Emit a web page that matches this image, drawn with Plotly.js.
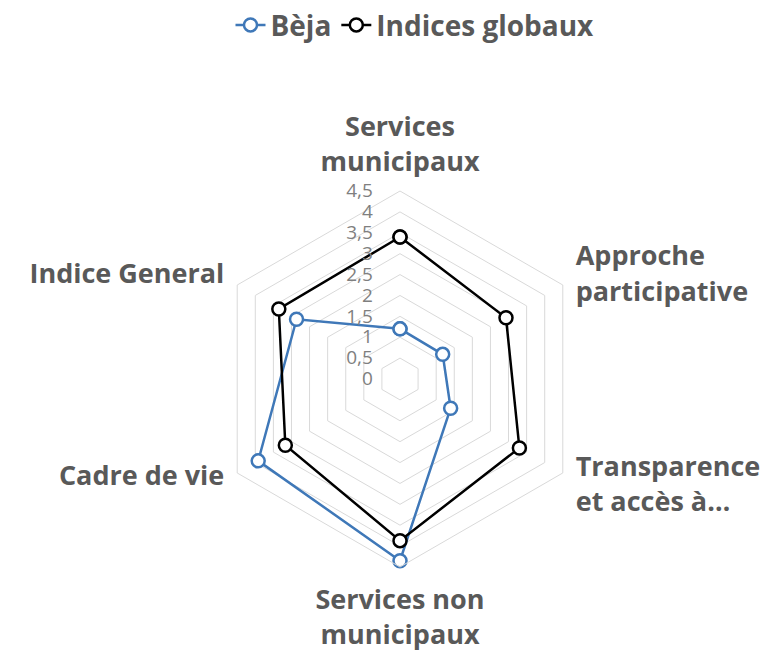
<!DOCTYPE html>
<html>
<head>
<meta charset="utf-8">
<script src="https://cdn.plot.ly/plotly-3.0.1.min.js"></script>
<style>html,body{margin:0;padding:0;background:#fff;}#chart{width:772px;height:657px;}</style>
</head>
<body>
<div id="chart"></div>
<script>
var categories = ["Services<br>municipaux", "Approche<br>participative", "Transparence<br>et accès à…", "Services non<br>municipaux", "Cadre de vie", "Indice General"];
var bejaValues = [1.2, 1.18, 1.4, 4.35, 3.92, 2.86];
var globalValues = [3.4, 2.93, 3.3, 3.87, 3.17, 3.35];
var radialTicks = [0, 0.5, 1, 1.5, 2, 2.5, 3, 3.5, 4, 4.5];

function closed(a){ return a.concat([a[0]]); }

// blank lines used only to nudge the label blocks vertically (layout styling)
var NB = '\u00a0';
var labelPadBefore = [0, 1, 0, 0, 0, 0];
var labelPadAfter  = [0, 0, 2, 0, 2, 0];
var tickText = categories.map(function(c, i){
  var s = c;
  for (var k = 0; k < labelPadBefore[i]; k++) s = NB + '<br>' + s;
  for (var k2 = 0; k2 < labelPadAfter[i]; k2++) s = s + '<br>' + NB;
  return s;
});

var traces = [
  {
    type: 'scatterpolar', name: 'Bèja',
    r: closed(bejaValues), theta: closed(categories),
    mode: 'lines+markers',
    line: {color: '#3f78b8', width: 2.5},
    marker: {symbol: 'circle', size: 13, color: '#ffffff', line: {color: '#3f78b8', width: 2.5}}
  },
  {
    type: 'scatterpolar', name: 'Indices globaux',
    r: closed(globalValues), theta: closed(categories),
    mode: 'lines+markers',
    line: {color: '#000000', width: 2.5},
    marker: {symbol: 'circle', size: 13, color: '#ffffff', line: {color: '#000000', width: 2.5}}
  }
];

var layout = {
  width: 772, height: 657,
  margin: {l: 0, r: 0, t: 0, b: 0},
  paper_bgcolor: '#ffffff',
  separators: ', ',
  font: {family: 'Open Sans, sans-serif', color: '#595959'},
  showlegend: true,
  legend: {
    orientation: 'h', x: 415/772, xanchor: 'center', y: 0.972, yanchor: 'middle',
    font: {size: 28, color: '#595959', family: 'Open Sans, sans-serif', weight: 'bold'}
  },
  polar: {
    domain: {x: [210/772, 590/772], y: [91/657, 471/657]},
    gridshape: 'linear',
    bgcolor: '#ffffff',
    radialaxis: {
      range: [0, 4.5], tickvals: radialTicks,
      angle: 90, tickangle: 90, showline: false,
      ticks: 'outside', ticklen: 20, tickcolor: 'rgba(0,0,0,0)',
      gridcolor: '#d9d9d9', gridwidth: 1,
      tickfont: {size: 19, color: '#7f7f7f'},
      side: 'counterclockwise'
    },
    angularaxis: {
      direction: 'clockwise', rotation: 90,
      tickvals: categories, ticktext: tickText,
      showgrid: false, showline: true, linecolor: '#d9d9d9', linewidth: 1,
      ticks: 'outside', ticklen: 9, tickcolor: 'rgba(0,0,0,0)',
      tickfont: {size: 27, color: '#595959', family: 'Open Sans, sans-serif', weight: 'bold'}
    }
  }
};

Plotly.newPlot('chart', traces, layout, {displayModeBar: false, staticPlot: true});
</script>
</body>
</html>
